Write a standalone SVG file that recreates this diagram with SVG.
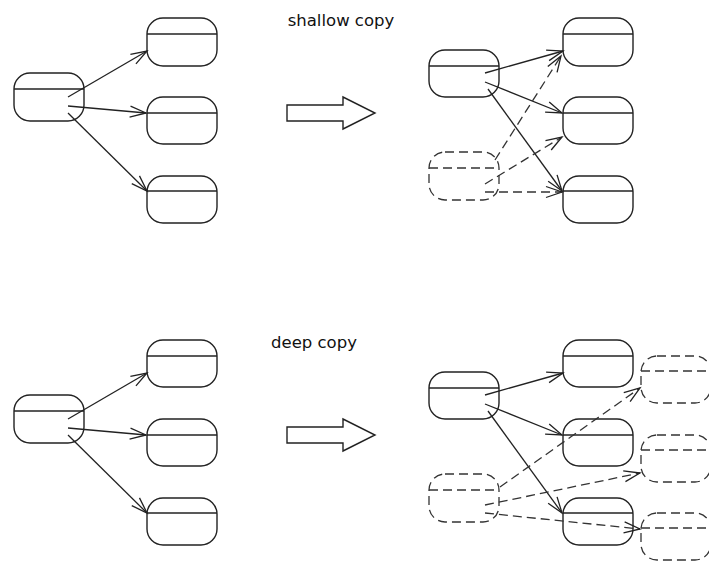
<svg xmlns="http://www.w3.org/2000/svg" width="709" height="561" viewBox="0 0 709 561">
<style>
.n{fill:#fff;stroke:#222;stroke-width:1.4}
.d{fill:none;stroke:#333;stroke-width:1.3;stroke-dasharray:9 5}
.l{fill:none;stroke:#222;stroke-width:1.4}
.c{fill:none;stroke:#222;stroke-width:1.3;marker-end:url(#ah)}
.cd{fill:none;stroke:#333;stroke-width:1.3;stroke-dasharray:9 5;marker-end:url(#ah)}
text{font-family:"DejaVu Sans",sans-serif;font-size:16.5px;fill:#111;text-anchor:middle}
</style>
<defs>
<marker id="ah" markerUnits="userSpaceOnUse" markerWidth="30" markerHeight="20" viewBox="-20 -10 30 20" refX="0" refY="0" orient="auto">
<path d="M-16,-5.5 L0,0 L-16,5.5" fill="none" stroke="#222" stroke-width="1.3"/>
</marker>
</defs>
<text id="t1" x="341" y="26">shallow copy</text>
<text id="t2" x="314" y="348">deep copy</text>
<polygon id="bigarrow1" points="287,105 343,105 343,97 375,113 343,129 343,121 287,121" fill="#fff" stroke="#222" stroke-width="1.4"/>
<polygon id="bigarrow2" points="287,427 343,427 343,419 375,435 343,451 343,443 287,443" fill="#fff" stroke="#222" stroke-width="1.4"/>
<!-- top-left -->
<g id="tl-p"><rect class="n" x="14" y="73" width="70" height="48" rx="16"/><line class="l" x1="14" y1="89" x2="84" y2="89"/></g>
<g id="tl-c1"><rect class="n" x="147" y="18" width="70" height="48" rx="16"/><line class="l" x1="147" y1="34" x2="217" y2="34"/></g>
<g id="tl-c2"><rect class="n" x="147" y="97" width="70" height="47" rx="16"/><line class="l" x1="147" y1="113" x2="217" y2="113"/></g>
<g id="tl-c3"><rect class="n" x="147" y="176" width="70" height="47" rx="16"/><line class="l" x1="147" y1="191" x2="217" y2="191"/></g>
<!-- top-right -->
<g id="tr-p"><rect class="n" x="429" y="50" width="70" height="47" rx="16"/><line class="l" x1="429" y1="66" x2="499" y2="66"/></g>
<g id="tr-c1"><rect class="n" x="563" y="18" width="70" height="48" rx="16"/><line class="l" x1="563" y1="34" x2="633" y2="34"/></g>
<g id="tr-c2"><rect class="n" x="563" y="97" width="70" height="47" rx="16"/><line class="l" x1="563" y1="113" x2="633" y2="113"/></g>
<g id="tr-c3"><rect class="n" x="563" y="176" width="70" height="47" rx="16"/><line class="l" x1="563" y1="191" x2="633" y2="191"/></g>
<g id="tr-copy"><rect class="d" x="429" y="152" width="70" height="48" rx="16"/><line class="d" x1="429" y1="168" x2="499" y2="168"/></g>
<!-- bottom-left -->
<g id="bl-p"><rect class="n" x="14" y="395" width="70" height="48" rx="16"/><line class="l" x1="14" y1="411" x2="84" y2="411"/></g>
<g id="bl-c1"><rect class="n" x="147" y="340" width="70" height="47" rx="16"/><line class="l" x1="147" y1="356" x2="217" y2="356"/></g>
<g id="bl-c2"><rect class="n" x="147" y="419" width="70" height="47" rx="16"/><line class="l" x1="147" y1="435" x2="217" y2="435"/></g>
<g id="bl-c3"><rect class="n" x="147" y="498" width="70" height="47" rx="16"/><line class="l" x1="147" y1="513" x2="217" y2="513"/></g>
<!-- bottom-right -->
<g id="br-p"><rect class="n" x="429" y="372" width="70" height="47" rx="16"/><line class="l" x1="429" y1="388" x2="499" y2="388"/></g>
<g id="br-c1"><rect class="n" x="563" y="340" width="70" height="47" rx="16"/><line class="l" x1="563" y1="356" x2="633" y2="356"/></g>
<g id="br-c2"><rect class="n" x="563" y="419" width="70" height="47" rx="16"/><line class="l" x1="563" y1="435" x2="633" y2="435"/></g>
<g id="br-c3"><rect class="n" x="563" y="498" width="70" height="47" rx="16"/><line class="l" x1="563" y1="513" x2="633" y2="513"/></g>
<g id="br-copy"><rect class="d" x="429" y="474" width="70" height="48" rx="16"/><line class="d" x1="429" y1="490" x2="499" y2="490"/></g>
<g id="br-cc1"><rect class="d" x="641" y="356" width="70" height="47" rx="16"/><line class="d" x1="641" y1="371" x2="711" y2="371"/></g>
<g id="br-cc2"><rect class="d" x="641" y="435" width="70" height="47" rx="16"/><line class="d" x1="641" y1="450" x2="711" y2="450"/></g>
<g id="br-cc3"><rect class="d" x="641" y="513" width="70" height="47" rx="16"/><line class="d" x1="641" y1="528" x2="711" y2="528"/></g>
<g id="connectors">
<line class="c" x1="68" y1="97" x2="147" y2="51"/>
<line class="c" x1="68" y1="106" x2="146" y2="113"/>
<line class="c" x1="68" y1="113" x2="147" y2="191"/>
<line class="c" x1="485" y1="73" x2="563" y2="51"/>
<line class="c" x1="485" y1="82" x2="562" y2="113"/>
<line class="c" x1="488" y1="89" x2="562" y2="191"/>
<line class="cd" x1="495" y1="160" x2="561" y2="56"/>
<line class="cd" x1="485" y1="184" x2="562" y2="137"/>
<line class="cd" x1="485" y1="192" x2="562" y2="192"/>
<line class="c" x1="68" y1="419" x2="147" y2="373"/>
<line class="c" x1="68" y1="428" x2="146" y2="435"/>
<line class="c" x1="68" y1="435" x2="147" y2="513"/>
<line class="c" x1="485" y1="395" x2="563" y2="373"/>
<line class="c" x1="485" y1="404" x2="562" y2="435"/>
<line class="c" x1="488" y1="411" x2="562" y2="513"/>
<line class="cd" x1="500" y1="487" x2="640" y2="388"/>
<line class="cd" x1="485" y1="505" x2="640" y2="473"/>
<line class="cd" x1="485" y1="513" x2="640" y2="529"/>
</g>
</svg>
